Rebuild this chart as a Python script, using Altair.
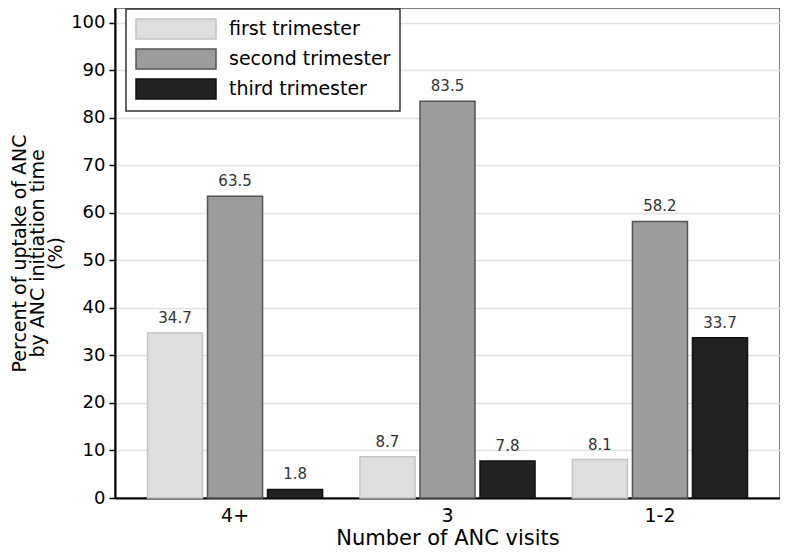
import altair as alt
import pandas as pd

visits = ["4+", "3", "1-2"]
trimesters = ["first trimester", "second trimester", "third trimester"]
first_vals = [34.7, 8.7, 8.1]
second_vals = [63.5, 83.5, 58.2]
third_vals = [1.8, 7.8, 33.7]

rows = []
for i, v in enumerate(visits):
    for t, vals in zip(trimesters, [first_vals, second_vals, third_vals]):
        rows.append({"visits": v, "trimester": t, "pct": vals[i]})
df = pd.DataFrame(rows)

fills = ["#dedede", "#9c9c9c", "#222222"]
strokes = ["#c4c4c4", "#555555", "#111111"]
FONT = "DejaVu Sans"

x = alt.X("visits:N", sort=visits,
          scale=alt.Scale(paddingInner=0.176, paddingOuter=0.153),
          axis=alt.Axis(title="Number of ANC visits", labelAngle=0, ticks=False,
                        labelFontSize=19, labelPadding=8, titleFontSize=21,
                        titlePadding=2, domainColor="#000000", domainWidth=2,
                        labelColor="#000000", titleColor="#000000",
                        titleFontWeight="normal", grid=False))
xo = alt.XOffset("trimester:N", sort=trimesters,
                 scale=alt.Scale(paddingInner=0.083, paddingOuter=0))
y = alt.Y("pct:Q", scale=alt.Scale(domain=[0, 103.1], nice=False, zero=True),
          axis=alt.Axis(title=["Percent of uptake of ANC", "by ANC initiation time", "(%)"],
                        values=list(range(0, 101, 10)), grid=True, gridColor="#e2e2e2",
                        gridWidth=1.5, domainColor="#000000", domainWidth=2,
                        tickColor="#000000", tickWidth=1.5, tickSize=6,
                        labelFontSize=18, labelPadding=4, labelColor="#000000",
                        titleFontSize=19, titleFontWeight="normal", titleColor="#000000",
                        titlePadding=5, titleLineHeight=18))

bars = alt.Chart(df).mark_bar(strokeWidth=1.5).encode(
    x=x, xOffset=xo, y=y,
    fill=alt.Fill("trimester:N", sort=trimesters,
                  scale=alt.Scale(domain=trimesters, range=fills), title=None),
    stroke=alt.Stroke("trimester:N", sort=trimesters,
                      scale=alt.Scale(domain=trimesters, range=strokes), title=None),
)

labels = alt.Chart(df).mark_text(fontSize=15, font=FONT, color="#333333",
                                 baseline="alphabetic", dy=-10).encode(
    x=alt.X("visits:N", sort=visits), xOffset=alt.XOffset("trimester:N", sort=trimesters),
    y="pct:Q", text=alt.Text("pct:Q", format=".1f"))

chart = alt.layer(bars, labels).properties(
    width=665, height=490,
    autosize=alt.AutoSizeParams(type="none"),
    padding={"left": 107, "top": 0, "right": 0, "bottom": 53},
).configure(font=FONT).configure_view(
    stroke="#555555", strokeWidth=1.5
).configure_legend(
    orient="none", legendX=11, legendY=1,
    strokeColor="#333333", strokeWidth=1.5, fillColor="#ffffff",
    padding=9, labelFontSize=19, labelColor="#000000", labelFont=FONT,
    labelLimit=400,
    symbolType="M-1,-1H7V1H-1Z", symbolSize=400, symbolStrokeWidth=1.5,
    labelOffset=72, rowPadding=4, symbolOpacity=1,
)

chart.save("out.html", embed_options={"renderer": "svg", "actions": False})
